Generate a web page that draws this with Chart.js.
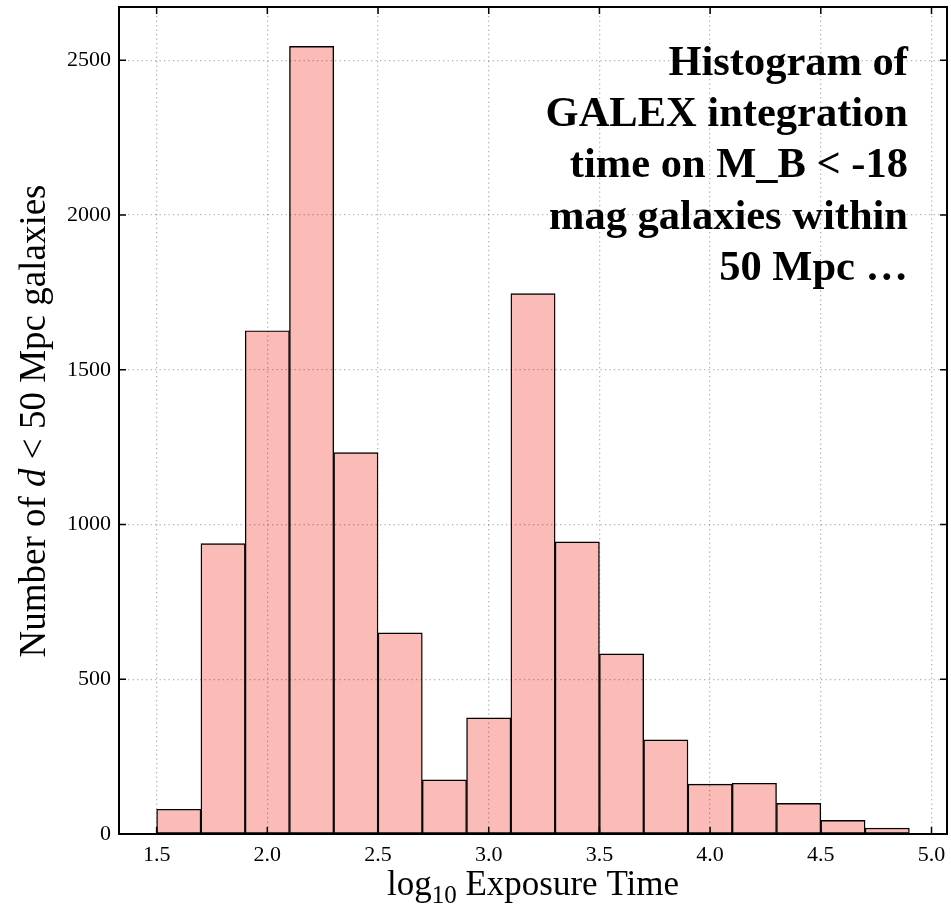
<!DOCTYPE html>
<html>
<head>
<meta charset="utf-8">
<script src="https://cdn.jsdelivr.net/npm/chart.js@4.4.0/dist/chart.umd.min.js"></script>
<style>
    html, body { margin: 0; padding: 0; background: #fff; }
    #wrap { width: 951px; height: 908px; position: relative; }
</style>
</head>
<body>
<div id="wrap"><canvas id="hist"></canvas></div>
<script>
// histogram bins (log10 exposure time) and counts
const binEdges = [1.5, 1.7, 1.9, 2.1, 2.3, 2.5, 2.7, 2.9, 3.1, 3.3, 3.5, 3.7, 3.9, 4.1, 4.3, 4.5, 4.7, 4.9];
const counts = [80, 938, 1626, 2545, 1232, 650, 175, 375, 1746, 944, 582, 304, 161, 164, 99, 44, 19];
const xTicks = [1.5, 2.0, 2.5, 3.0, 3.5, 4.0, 4.5, 5.0];
const yTicks = [0, 500, 1000, 1500, 2000, 2500];
const xRange = [1.33, 5.07];
const yRange = [0, 2672];
const noteLines = ["Histogram of", "GALEX integration", "time on M_B < -18", "mag galaxies within", "50 Mpc \u2026"];

const SERIF = "'Liberation Serif', 'Times New Roman', serif";

const barData = counts.map((c, i) => ({ x: (binEdges[i] + binEdges[i + 1]) / 2, y: c }));

// frame, inward ticks, axis titles and the note in the corner
const decorations = {
    id: "decorations",
    afterDraw(chart) {
        const ctx = chart.ctx;
        const a = chart.chartArea;
        const xs = chart.scales.x;
        const ys = chart.scales.y;
        const tl = 7;

        ctx.save();
        ctx.strokeStyle = "#000";
        ctx.lineWidth = 1.5;
        ctx.beginPath();
        xTicks.forEach(v => {
            const px = xs.getPixelForValue(v);
            ctx.moveTo(px, a.bottom); ctx.lineTo(px, a.bottom - tl);
            ctx.moveTo(px, a.top); ctx.lineTo(px, a.top + tl);
        });
        yTicks.forEach(v => {
            const py = ys.getPixelForValue(v);
            ctx.moveTo(a.left, py); ctx.lineTo(a.left + tl, py);
            ctx.moveTo(a.right, py); ctx.lineTo(a.right - tl, py);
        });
        ctx.stroke();

        ctx.lineWidth = 2;
        ctx.strokeRect(a.left, a.top, a.right - a.left, a.bottom - a.top);

        // x title: log10 Exposure Time
        ctx.fillStyle = "#000";
        ctx.textBaseline = "alphabetic";
        ctx.textAlign = "left";
        const big = "35px " + SERIF;
        const sub = "25px " + SERIF;
        ctx.font = big;
        const w1 = ctx.measureText("log").width;
        ctx.font = sub;
        const w2 = ctx.measureText("10").width;
        ctx.font = big;
        const w3 = ctx.measureText(" Exposure Time").width;
        let x0 = (a.left + a.right) / 2 - (w1 + w2 + w3) / 2;
        const by = 895;
        ctx.fillText("log", x0, by);
        ctx.font = sub;
        ctx.fillText("10", x0 + w1, by + 8);
        ctx.font = big;
        ctx.fillText(" Exposure Time", x0 + w1 + w2, by);

        // y title: Number of d < 50 Mpc galaxies
        ctx.save();
        ctx.translate(45, 421);
        ctx.rotate(-Math.PI / 2);
        const yBig = "37px " + SERIF;
        const parts = [
            ["Number of ", yBig],
            ["d", "italic 37px " + SERIF],
            [" < 50 Mpc galaxies", yBig]
        ];
        let total = 0;
        parts.forEach(p => { ctx.font = p[1]; total += ctx.measureText(p[0]).width; });
        let cx = -total / 2;
        parts.forEach(p => {
            ctx.font = p[1];
            ctx.fillText(p[0], cx, 0);
            cx += ctx.measureText(p[0]).width;
        });
        ctx.restore();

        // note block, right aligned
        ctx.font = "bold 42.5px " + SERIF;
        ctx.textAlign = "right";
        noteLines.forEach((line, i) => {
            ctx.fillText(line, 908, 75 + i * 51.2);
        });
        ctx.restore();
    }
};

const ctx = document.getElementById("hist").getContext("2d");
new Chart(ctx, {
    type: "bar",
    data: {
        datasets: [{
            label: "counts",
            data: barData,
            backgroundColor: "rgb(251, 188, 183)",
            borderColor: "#000",
            borderWidth: 1.4,
            borderSkipped: false,
            barPercentage: 1.0,
            categoryPercentage: 1.0
        }]
    },
    options: {
        responsive: true,
        maintainAspectRatio: false,
        animation: false,
        layout: { padding: { top: 7, right: 4, left: 0, bottom: 0 } },
        plugins: {
            legend: { display: false },
            tooltip: { enabled: false }
        },
        scales: {
            x: {
                type: "linear",
                offset: false,
                min: xRange[0],
                max: xRange[1],
                afterBuildTicks: s => { s.ticks = xTicks.map(v => ({ value: v })); },
                afterFit: s => { s.height = 74; s.paddingLeft = 0; s.paddingRight = 0; },
                grid: { color: "rgba(0,0,0,0.3)", lineWidth: 1.3, drawTicks: false, z: 1, offset: false },
                border: { display: false, dash: [1.3, 3.2] },
                ticks: {
                    color: "#000",
                    padding: 8,
                    maxRotation: 0,
                    autoSkip: false,
                    font: { family: SERIF, size: 22 },
                    callback: v => v.toFixed(1)
                }
            },
            y: {
                min: yRange[0],
                max: yRange[1],
                afterBuildTicks: s => { s.ticks = yTicks.map(v => ({ value: v })); },
                afterFit: s => { s.width = 119; s.paddingTop = 0; s.paddingBottom = 0; },
                grid: { color: "rgba(0,0,0,0.3)", lineWidth: 1.3, drawTicks: false, z: 1 },
                border: { display: false, dash: [1.3, 3.2] },
                ticks: {
                    color: "#000",
                    padding: 8,
                    font: { family: SERIF, size: 22 },
                    callback: v => String(v)
                }
            }
        }
    },
    plugins: [decorations]
});
</script>
</body>
</html>
